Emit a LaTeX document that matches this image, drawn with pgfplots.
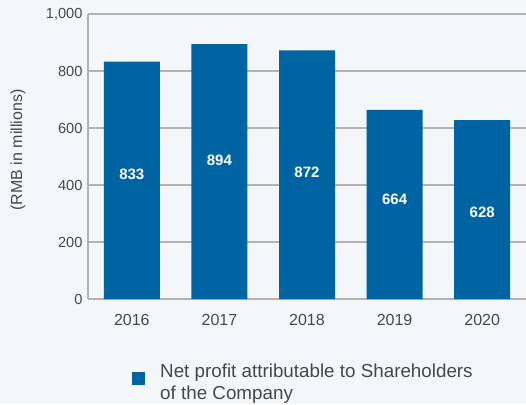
\documentclass[border=0pt]{standalone}
\usepackage{pgfplots}
\pgfplotsset{compat=1.18}
\usepackage{fontspec}
\setmainfont{Liberation Sans}
\definecolor{bg}{HTML}{F3F7FA}
\definecolor{barblue}{HTML}{0063A2}
\definecolor{gridgray}{HTML}{B3B3B3}
\definecolor{txt}{HTML}{474747}
\begin{document}
\begin{tikzpicture}
\fill[bg] (-88pt,-105pt) rectangle (438pt,299pt);
\begin{axis}[
    at={(0,0)}, anchor=south west,
    scale only axis,
    width=438pt, height=285pt,
    ybar, bar width=56pt, bar shift=0pt,
    xmin=-0.5, xmax=4.5,
    ymin=0, ymax=1000,
    xtick={0,1,2,3,4},
    xticklabels={2016,2017,2018,2019,2020},
    ytick={0,200,400,600,800,1000},
    axis x line*=bottom, axis y line*=left,
    axis line style={gridgray, line width=1.2pt, -},
    tick style={draw=none},
    ymajorgrids,
    grid style={gridgray, line width=1.2pt},
    /pgf/number format/assume math mode=true,
    /pgf/number format/1000 sep={,},
    yticklabel style={font=\fontsize{14.6}{16}\selectfont, text=txt, xshift=-2pt},
    xticklabel style={font=\fontsize{16}{18}\selectfont, text=txt, yshift=-8pt},
    ylabel={(RMB in millions)},
    ylabel style={at={(axis description cs:-0.16,0.523)}, anchor=center,
        font=\fontsize{16}{18}\selectfont, text=txt},
    legend style={at={(axis description cs:0.1005,-0.228)}, anchor=north west,
        draw=none, fill=none, inner sep=0pt,
        font=\fontsize{18.8}{22}\selectfont, text=txt,
        cells={align=left}, nodes={inner sep=0pt},
        /tikz/column sep=15pt},
    legend cell align=left,
    legend image code/.code={\fill[barblue] (0pt,-2.5pt) rectangle (13pt,10.5pt);},
]
\addplot[fill=barblue, draw=none] coordinates {(0,833) (1,894) (2,872) (3,664) (4,628)};
\addlegendentry{Net profit attributable to Shareholders\\of the Company}
\addplot[draw=none, fill=none, forget plot, bar shift=0pt,
    nodes near coords, point meta=explicit symbolic,
    nodes near coords align={center},
    every node near coord/.append style={anchor=center, text=white,
        font=\fontsize{15}{17}\selectfont\bfseries}]
    coordinates {(0,437)[833] (1,486)[894] (2,446)[872] (3,351)[664] (4,305)[628]};
\end{axis}
\pgfresetboundingbox
\path[use as bounding box] (-88pt,-105pt) rectangle (438pt,299pt);
\end{tikzpicture}
\end{document}
